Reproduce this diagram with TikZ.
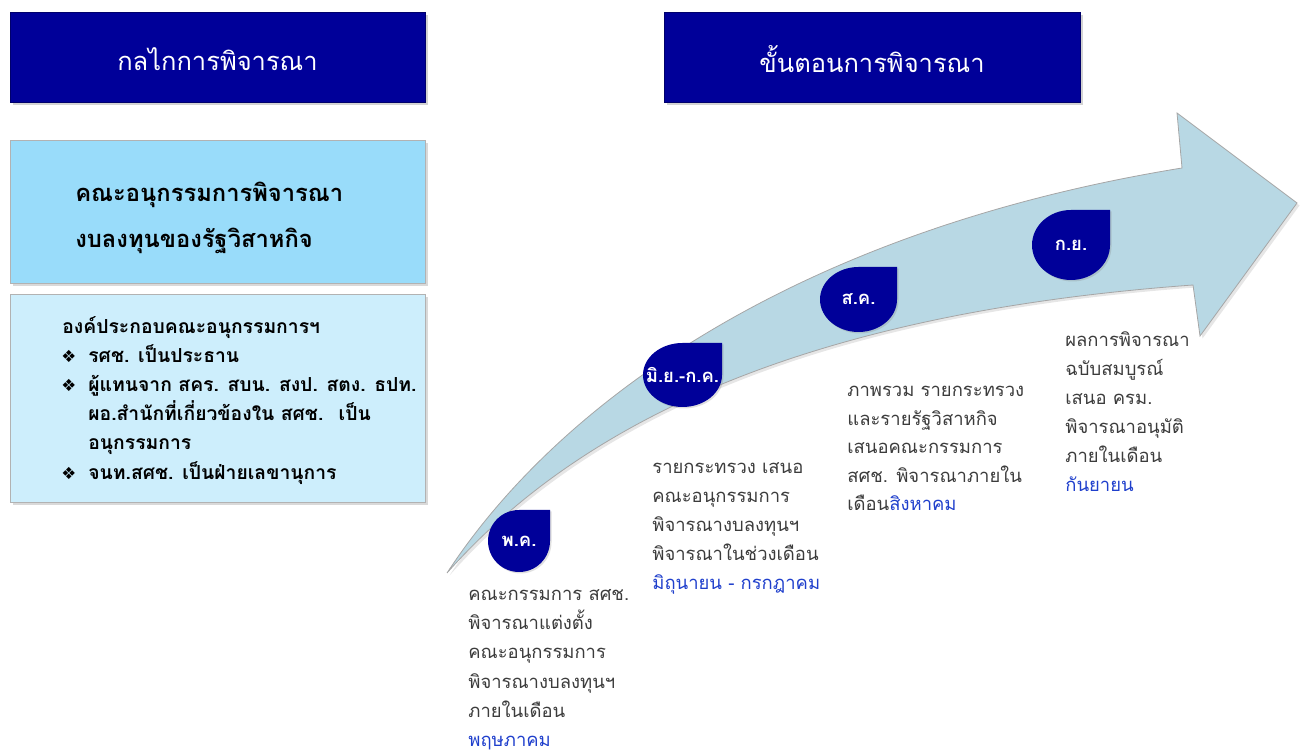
\documentclass[tikz,border=0pt]{standalone}
\usepackage{fontspec}
\setmainfont[Script=Thai]{Loma}
\newfontfamily\symfont{DejaVu Sans}
\usetikzlibrary{shadows}

\definecolor{headnavy}{HTML}{000099}
\definecolor{boxblue}{HTML}{99DCFA}
\definecolor{boxpale}{HTML}{CDEEFC}
\definecolor{arrowblue}{HTML}{B8D8E4}
\definecolor{textgray}{HTML}{3C3C3C}
\definecolor{monthblue}{HTML}{1F3FCC}

% month marker: name, cx, cy, rx, ry, label
\newcommand{\monthdrop}[6]{%
  \fill [dropfill] (#2+#4,#3+#5) -- (#2+#4,#3) arc (0:-270:#4 and #5) -- cycle;%
  \node [droplabel] (#1) at (#2,#3) {#6};%
}

\begin{document}
\begin{tikzpicture}[
  headbox/.style={fill=headnavy, draw=headnavy!70!black, line width=0.016cm,
    drop shadow={opacity=0.35, shadow xshift=0.06cm, shadow yshift=-0.06cm}},
  infobox/.style={draw=black!30, line width=0.016cm,
    drop shadow={opacity=0.3, shadow xshift=0.06cm, shadow yshift=-0.06cm}},
  headtext/.style={text=white, font=\fontsize{14.5}{18}\selectfont},
  boxtext/.style={anchor=base west, inner sep=0pt, font=\bfseries\fontsize{13.5}{17}\selectfont},
  listtext/.style={anchor=base west, inner sep=0pt, font=\bfseries\fontsize{11}{13}\selectfont},
  steptext/.style={anchor=base west, inner sep=0pt, text=textgray, font=\fontsize{10.5}{13}\selectfont},
  dropfill/.style={fill=headnavy, drop shadow={opacity=0.25, shadow xshift=0.03cm, shadow yshift=-0.03cm}},
  droplabel/.style={text=white, inner sep=0pt, font=\bfseries\fontsize{10.5}{13}\selectfont},
  arrowbody/.style={fill=arrowblue, draw=black!35, line width=0.016cm,
    drop shadow={opacity=0.2, shadow xshift=0.05cm, shadow yshift=-0.05cm}}
]
\useasboundingbox (0,0) rectangle (26.100000,15.040000);

% Drawing header of mechanism
\draw [headbox] (0.200000,13.000000) rectangle (8.500000,14.800000);%
\node [headtext] (mechhead) at (4.350000,13.860000) {กลไกการพิจารณา};%

% Drawing header of steps
\draw [headbox] (13.280000,13.000000) rectangle (21.600000,14.800000);%
\node [headtext] (stephead) at (17.440000,13.860000) {ขั้นตอนการพิจารณา};%

% Drawing box of subcommittee
\draw [infobox, fill=boxblue] (0.200000,9.380000) rectangle (8.500000,12.240000);%
\node [boxtext] (subname1) at (1.500000,11.000000) {คณะอนุกรรมการพิจารณา};%
\node [boxtext] (subname2) at (1.500000,10.080000) {งบลงทุนของรัฐวิสาหกิจ};%

% Drawing box of members
\draw [infobox, fill=boxpale] (0.200000,5.000000) rectangle (8.500000,9.160000);%
\node [listtext] (members) at (1.240000,8.360000) {องค์ประกอบคณะอนุกรรมการฯ};%
\foreach \y/\txt [count=\i] in {7.780000/รศช. เป็นประธาน, 7.200000/ผู้แทนจาก สคร. สบน. สงป. สตง. ธปท., 5.440000/จนท.สศช. เป็นฝ่ายเลขานุการ}
{
  \node [listtext] (dot-\i) at (1.220000,\y) {\symfont\fontsize{9.5}{10}\selectfont ❖};%
  \node [listtext] (member-\i) at (1.760000,\y) {\txt};%
}
\node [listtext] (member-2b) at (1.760000,6.620000) {ผอ.สำนักที่เกี่ยวข้องใน สศช.~ เป็น};%
\node [listtext] (member-2c) at (1.760000,6.040000) {อนุกรรมการ};%

% Drawing curved arrow
\draw [arrowbody] (8.940000,3.580000) .. controls (11.200000,7.040000) and (16.000000,10.440000) .. (23.640000,11.680000)
  -- (23.540000,12.780000) -- (25.940000,10.980000) -- (24.000000,8.320000) -- (23.860000,9.340000)
  .. controls (17.000000,8.840000) and (12.000000,7.040000) .. (8.940000,3.580000) -- cycle;%

% Marking months
\monthdrop{may}{10.380000}{4.220000}{0.620000}{0.620000}{พ.ค.}
\monthdrop{junjul}{13.650000}{7.540000}{0.790000}{0.640000}{มิ.ย.-ก.ค.}
\monthdrop{aug}{17.170000}{9.050000}{0.770000}{0.650000}{ส.ค.}
\monthdrop{sep}{21.420000}{10.140000}{0.780000}{0.700000}{ก.ย.}

% Writing text of May
\foreach \txt [count=\i] in {คณะกรรมการ สศช., พิจารณาแต่งตั้ง, คณะอนุกรรมการ, พิจารณางบลงทุนฯ, ภายในเดือน, {\color{monthblue}พฤษภาคม}}
  \node [steptext] (maytext-\i) at ({9.360000},{3.020000-0.580000*(\i-1)}) {\txt};%

% Writing text of June - July
\foreach \txt [count=\i] in {รายกระทรวง เสนอ, คณะอนุกรรมการ, พิจารณางบลงทุนฯ, พิจารณาในช่วงเดือน, {\color{monthblue}มิถุนายน - กรกฎาคม}}
  \node [steptext] (juntext-\i) at ({13.040000},{5.560000-0.580000*(\i-1)}) {\txt};%

% Writing text of August
\foreach \txt [count=\i] in {ภาพรวม รายกระทรวง, และรายรัฐวิสาหกิจ, เสนอคณะกรรมการ, สศช. พิจารณาภายใน, เดือน{\color{monthblue}สิงหาคม}}
  \node [steptext] (augtext-\i) at ({16.940000},{7.100000-0.570000*(\i-1)}) {\txt};%

% Writing text of September
\foreach \txt [count=\i] in {ผลการพิจารณา, ฉบับสมบูรณ์, เสนอ ครม., พิจารณาอนุมัติ, ภายในเดือน, {\color{monthblue}กันยายน}}
  \node [steptext] (septext-\i) at ({21.300000},{8.100000-0.580000*(\i-1)}) {\txt};%
\end{tikzpicture}
\end{document}
